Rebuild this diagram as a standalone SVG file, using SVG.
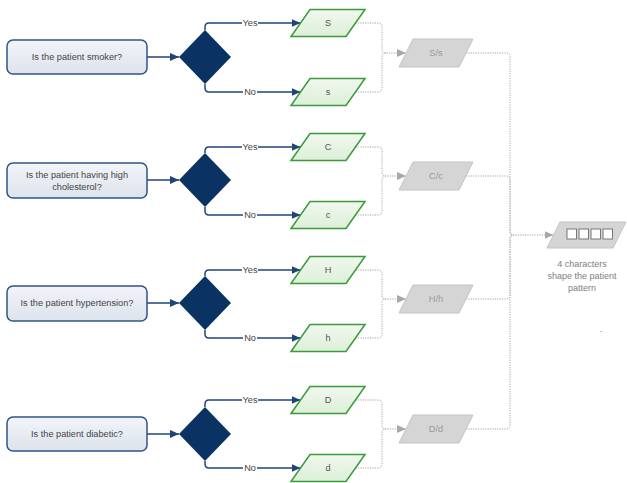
<svg xmlns="http://www.w3.org/2000/svg" width="627" height="483" viewBox="0 0 627 483">
<style>
text{font-family:"Liberation Sans",Arial,sans-serif;font-size:9.2px;text-anchor:middle}
.q rect{fill:url(#rg);stroke:#2d5585;stroke-width:1.5}
.q text{fill:#444}
.d polygon{fill:#0a3364}
.g polygon{fill:url(#gg);stroke:#3b9a3b;stroke-width:1.5}
.g text{fill:#555}
.y polygon{fill:#d5d5d5;stroke:#c4c4c4;stroke-width:1}
.y text{fill:#9a9a9a}
#pattern text{fill:#808080;font-size:9px}
.n{fill:none;stroke:#1f4577;stroke-width:1.5}
.dt{fill:none;stroke:#c2c2c2;stroke-width:1.4;stroke-dasharray:1.2 1.2}
.lb rect{fill:#fff}
.lb text{fill:#444}
.sq{fill:#fff;stroke:#777;stroke-width:1}
</style>
<defs>
<linearGradient id="rg" x1="0" y1="0" x2="0" y2="1"><stop offset="0" stop-color="#f2f4f9"/><stop offset="1" stop-color="#dde3ec"/></linearGradient>
<linearGradient id="gg" x1="0" y1="0" x2="0" y2="1"><stop offset="0" stop-color="#f1f8ef"/><stop offset="1" stop-color="#dcefd8"/></linearGradient>
<marker id="an" viewBox="0 0 10 10" refX="10" refY="5" markerWidth="9" markerHeight="9" markerUnits="userSpaceOnUse" orient="auto"><path d="M0,0.5 L10,5 L0,9.5 z" fill="#1f4577"/></marker>
<marker id="ag" viewBox="0 0 10 10" refX="10" refY="5" markerWidth="9" markerHeight="9" markerUnits="userSpaceOnUse" orient="auto"><path d="M0,0.5 L10,5 L0,9.5 z" fill="#a8a8a8"/></marker>
</defs>

<g id="connectors">
<path class="n" d="M147,57 H179" marker-end="url(#an)"/>
<path class="n" d="M205,30 V27 Q205,23 209,23 H300.5" marker-end="url(#an)"/>
<path class="n" d="M205,84 V88 Q205,92 209,92 H300.5" marker-end="url(#an)"/>
<path class="dt" d="M355.5,23 H378 Q382,23 382,27 V49 Q382,53 386,53 H406" marker-end="url(#ag)"/>
<path class="dt" d="M355.5,92 H378 Q382,92 382,88 V57 Q382,53 386,53"/>
<path class="dt" d="M466,53 H506 Q510,53 510,57 V231 Q510,235 514,235 H553.5" marker-end="url(#ag)"/>
<path class="n" d="M147,180 H179" marker-end="url(#an)"/>
<path class="n" d="M205,153 V151 Q205,147 209,147 H300.5" marker-end="url(#an)"/>
<path class="n" d="M205,207 V211 Q205,215 209,215 H300.5" marker-end="url(#an)"/>
<path class="dt" d="M355.5,147 H378 Q382,147 382,151 V172 Q382,176 386,176 H406" marker-end="url(#ag)"/>
<path class="dt" d="M355.5,215 H378 Q382,215 382,211 V180 Q382,176 386,176"/>
<path class="dt" d="M466,176 H506 Q510,176 510,180 V231 Q510,235 514,235"/>
<path class="n" d="M147,303 H179" marker-end="url(#an)"/>
<path class="n" d="M205,276 V274 Q205,270 209,270 H300.5" marker-end="url(#an)"/>
<path class="n" d="M205,330 V334 Q205,338 209,338 H300.5" marker-end="url(#an)"/>
<path class="dt" d="M355.5,270 H378 Q382,270 382,274 V295 Q382,299 386,299 H406" marker-end="url(#ag)"/>
<path class="dt" d="M355.5,338 H378 Q382,338 382,334 V303 Q382,299 386,299"/>
<path class="dt" d="M466,299 H506 Q510,299 510,295 V239 Q510,235 514,235"/>
<path class="n" d="M147,434 H179" marker-end="url(#an)"/>
<path class="n" d="M205,407 V404 Q205,400 209,400 H300.5" marker-end="url(#an)"/>
<path class="n" d="M205,461 V464 Q205,468 209,468 H300.5" marker-end="url(#an)"/>
<path class="dt" d="M355.5,400 H378 Q382,400 382,404 V425 Q382,429 386,429 H406" marker-end="url(#ag)"/>
<path class="dt" d="M355.5,468 H378 Q382,468 382,464 V433 Q382,429 386,429"/>
<path class="dt" d="M466,429 H506 Q510,429 510,425 V239 Q510,235 514,235"/>
<g class="lb">
<rect x="242" y="18" width="16" height="10"/><text x="250" y="26">Yes</text>
<rect x="243" y="87" width="14" height="10"/><text x="250" y="95">No</text>
<rect x="242" y="142" width="16" height="10"/><text x="250" y="150">Yes</text>
<rect x="243" y="210" width="14" height="10"/><text x="250" y="218">No</text>
<rect x="242" y="265" width="16" height="10"/><text x="250" y="273">Yes</text>
<rect x="243" y="333" width="14" height="10"/><text x="250" y="341">No</text>
<rect x="242" y="395" width="16" height="10"/><text x="250" y="403">Yes</text>
<rect x="243" y="463" width="14" height="10"/><text x="250" y="471">No</text>
</g>
</g>

<g id="q-smoker" class="q"><rect x="7" y="40" width="140" height="34" rx="6"/><text x="77" y="60">Is the patient smoker?</text></g>
<g id="q-chol" class="q"><rect x="7" y="163" width="140" height="35" rx="6"/><text x="77" y="178">Is the patient having high</text><text x="77" y="190">cholesterol?</text></g>
<g id="q-hyper" class="q"><rect x="7" y="286" width="140" height="35" rx="6"/><text x="77" y="306">Is the patient hypertension?</text></g>
<g id="q-diab" class="q"><rect x="7" y="417" width="140" height="34" rx="6"/><text x="77" y="437">Is the patient diabetic?</text></g>

<g id="d-smoker" class="d"><polygon points="205,30 231,57 205,84 179,57"/></g>
<g id="d-chol" class="d"><polygon points="205,153 231,180 205,207 179,180"/></g>
<g id="d-hyper" class="d"><polygon points="205,276 231,303 205,330 179,303"/></g>
<g id="d-diab" class="d"><polygon points="205,407 231,434 205,461 179,434"/></g>

<g id="p-S" class="g"><polygon transform="translate(328,23)" points="-18,-13.5 37,-13.5 18,13.5 -37,13.5"/><text x="328" y="26">S</text></g>
<g id="p-s" class="g"><polygon transform="translate(328,92)" points="-18,-13.5 37,-13.5 18,13.5 -37,13.5"/><text x="328" y="95">s</text></g>
<g id="p-C" class="g"><polygon transform="translate(328,147)" points="-18,-13.5 37,-13.5 18,13.5 -37,13.5"/><text x="328" y="150">C</text></g>
<g id="p-c" class="g"><polygon transform="translate(328,215)" points="-18,-13.5 37,-13.5 18,13.5 -37,13.5"/><text x="328" y="218">c</text></g>
<g id="p-H" class="g"><polygon transform="translate(328,270)" points="-18,-13.5 37,-13.5 18,13.5 -37,13.5"/><text x="328" y="273">H</text></g>
<g id="p-h" class="g"><polygon transform="translate(328,338)" points="-18,-13.5 37,-13.5 18,13.5 -37,13.5"/><text x="328" y="341">h</text></g>
<g id="p-D" class="g"><polygon transform="translate(328,400)" points="-18,-13.5 37,-13.5 18,13.5 -37,13.5"/><text x="328" y="403">D</text></g>
<g id="p-d" class="g"><polygon transform="translate(328,468)" points="-18,-13.5 37,-13.5 18,13.5 -37,13.5"/><text x="328" y="471">d</text></g>

<g id="g-Ss" class="y"><polygon transform="translate(436,53)" points="-23,-14 37,-14 23,14 -37,14"/><text x="436" y="56">S/s</text></g>
<g id="g-Cc" class="y"><polygon transform="translate(436,176)" points="-23,-14 37,-14 23,14 -37,14"/><text x="436" y="179">C/c</text></g>
<g id="g-Hh" class="y"><polygon transform="translate(436,299)" points="-23,-14 37,-14 23,14 -37,14"/><text x="436" y="302">H/h</text></g>
<g id="g-Dd" class="y"><polygon transform="translate(436,429)" points="-23,-14 37,-14 23,14 -37,14"/><text x="436" y="432">D/d</text></g>

<g id="pattern" class="y">
<polygon points="560,222 626,222 613,248 547,248"/>
<rect class="sq" x="567" y="229" width="9.5" height="10"/>
<rect class="sq" x="579" y="229" width="9.5" height="10"/>
<rect class="sq" x="591" y="229" width="9.5" height="10"/>
<rect class="sq" x="603" y="229" width="9.5" height="10"/>
<text x="582" y="267">4 characters</text>
<text x="582" y="279">shape the patient</text>
<text x="582" y="291">pattern</text>
</g>
<text x="601" y="332" style="fill:#777;font-size:9px">.</text>
</svg>
